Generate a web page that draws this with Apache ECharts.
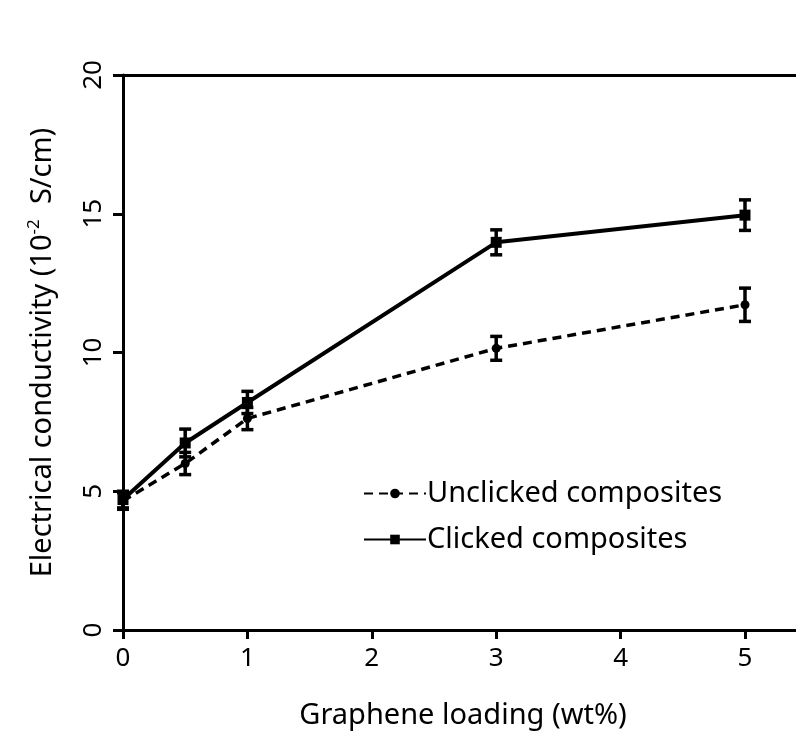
<!DOCTYPE html>
<html>
<head>
<meta charset="utf-8">
<script src="https://cdn.jsdelivr.net/npm/echarts@6/dist/echarts.min.js"></script>
<style>
  html, body { margin: 0; padding: 0; background: #fff; }
  #chart { width: 796px; height: 731px; }
</style>
</head>
<body>
<div id="chart"></div>
<script>
// Graphene loading (wt%)
const loading = [0, 0.5, 1, 3, 5];
// Electrical conductivity (10^-2 S/cm) and standard deviations
const unclicked = [4.65, 6.0, 7.62, 10.15, 11.72];
const unclickedErr = [0.3, 0.4, 0.4, 0.43, 0.6];
const clicked = [4.7, 6.74, 8.2, 13.97, 14.95];
const clickedErr = [0.3, 0.5, 0.4, 0.45, 0.55];
const xTicks = [0, 1, 2, 3, 4, 5];
const yTicks = [0, 5, 10, 15, 20];

const FONT = 'Noto Sans';

function pairs(xs, ys) { return xs.map((x, i) => [x, ys[i]]); }
function errRows(xs, ys, es) { return xs.map((x, i) => [x, ys[i] - es[i], ys[i] + es[i]]); }

function errorBar(params, api) {
  const x = api.value(0);
  const lo = api.coord([x, api.value(1)]);
  const hi = api.coord([x, api.value(2)]);
  const cap = 6;
  const style = { stroke: '#000', lineWidth: 3.5 };
  return {
    type: 'group',
    children: [
      { type: 'line', shape: { x1: lo[0], y1: lo[1], x2: hi[0], y2: hi[1] }, style },
      { type: 'line', shape: { x1: lo[0] - cap, y1: lo[1], x2: lo[0] + cap, y2: lo[1] }, style },
      { type: 'line', shape: { x1: hi[0] - cap, y1: hi[1], x2: hi[0] + cap, y2: hi[1] }, style }
    ]
  };
}

const axisLineStyle = { color: '#000', width: 3 };

const chart = echarts.init(document.getElementById('chart'));
chart.setOption({
  backgroundColor: '#fff',
  animation: false,
  grid: { left: 123, top: 75, bottom: 101, right: 0 },
  xAxis: [
    {
      type: 'value', min: 0, max: 5.41, interval: 1,
      axisLine: { show: true, lineStyle: axisLineStyle },
      axisTick: { show: true, inside: false, length: 9, customValues: xTicks, lineStyle: axisLineStyle },
      axisLabel: {
        color: '#000', fontFamily: FONT, fontSize: 26, margin: 16,
        customValues: xTicks
      },
      splitLine: { show: false }
    },
    {
      // top frame line
      type: 'value', position: 'top', min: 0, max: 5.41,
      axisLine: { show: true, lineStyle: axisLineStyle },
      axisTick: { show: false }, axisLabel: { show: false }, splitLine: { show: false }
    }
  ],
  yAxis: {
    type: 'value', min: 0, max: 20, interval: 5,
    axisLine: { show: true, lineStyle: axisLineStyle },
    axisTick: { show: true, inside: false, length: 10, lineStyle: axisLineStyle },
    axisLabel: {
      color: '#000', fontFamily: FONT, fontSize: 26, margin: 16, rotate: 90,
      formatter: v => (yTicks.indexOf(v) >= 0 ? String(v) : '')
    },
    splitLine: { show: false },
    name: '{t|Electrical conductivity (10}{s|-2}{t|  S/cm)}',
    nameLocation: 'middle',
    nameGap: 64,
    nameTextStyle: {
      rich: {
        t: { fontFamily: FONT, fontSize: 29, color: '#000' },
        s: { fontFamily: FONT, fontSize: 17, color: '#000', verticalAlign: 'top', padding: [0, 0, 16, 0] }
      }
    }
  },
  legend: {
    orient: 'vertical',
    left: 358, top: 474,
    itemWidth: 62, itemHeight: 12, itemGap: 17,
    textStyle: { fontFamily: FONT, fontSize: 29, color: '#000', padding: [0, 0, 0, -4] },
    data: ['Unclicked composites', 'Clicked composites']
  },
  graphic: [
    {
      type: 'text', x: 463, y: 716,
      style: {
        text: 'Graphene loading (wt%)', fontFamily: FONT, fontSize: 29, fill: '#000',
        textAlign: 'center', textVerticalAlign: 'middle'
      }
    }
  ],
  series: [
    {
      name: 'Unclicked composites', type: 'line',
      data: pairs(loading, unclicked),
      symbol: 'circle', symbolSize: 9,
      lineStyle: { color: '#000', width: 3.5, type: [9, 6] },
      itemStyle: { color: '#000' },
      z: 3
    },
    {
      name: 'Clicked composites', type: 'line',
      data: pairs(loading, clicked),
      symbol: 'rect', symbolSize: 11,
      lineStyle: { color: '#000', width: 4, type: 'solid' },
      itemStyle: { color: '#000' },
      z: 4
    },
    {
      type: 'custom', renderItem: errorBar,
      data: errRows(loading, unclicked, unclickedErr),
      encode: { x: 0, y: [1, 2] }, z: 5, silent: true
    },
    {
      type: 'custom', renderItem: errorBar,
      data: errRows(loading, clicked, clickedErr),
      encode: { x: 0, y: [1, 2] }, z: 5, silent: true
    }
  ]
});
</script>
</body>
</html>
